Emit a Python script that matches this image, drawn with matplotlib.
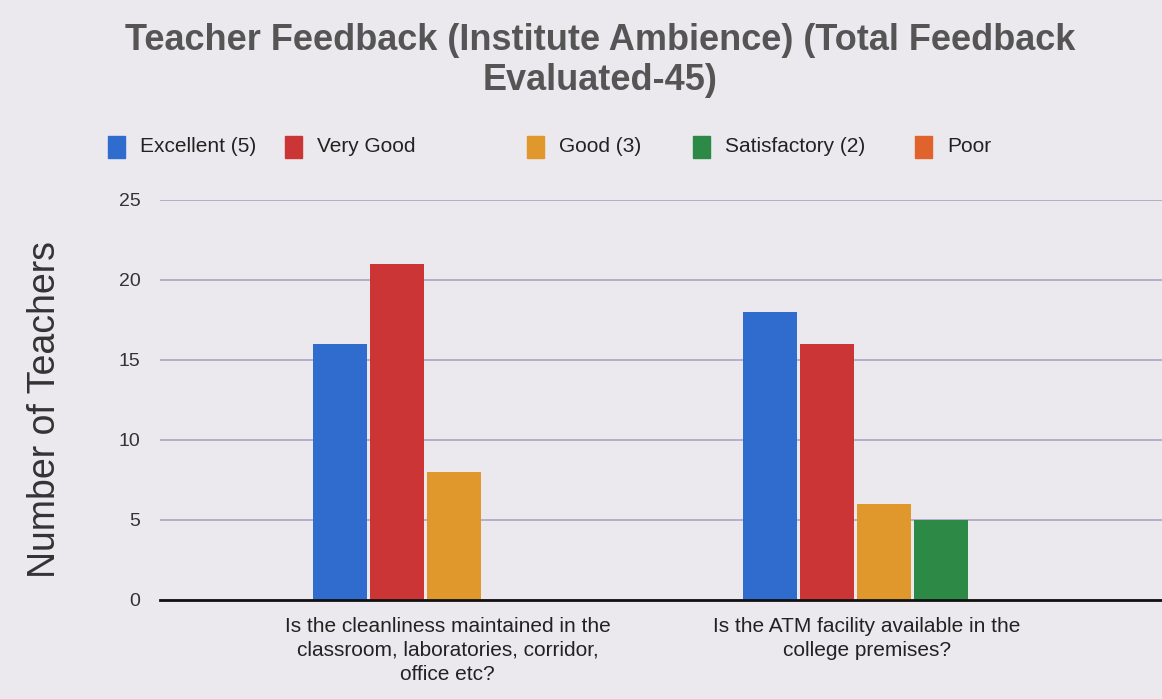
import matplotlib.pyplot as plt
from matplotlib.patches import Rectangle
import numpy as np

# data
questions = ['Is the cleanliness maintained in the\nclassroom, laboratories, corridor,\noffice etc?',
             'Is the ATM facility available in the\ncollege premises?']
series = ['Excellent (5)', 'Very Good', 'Good (3)', 'Satisfactory (2)', 'Poor']
excellent = [16, 18]
very_good = [21, 16]
good = [8, 6]
satisfactory = [0, 5]
poor = [0, 0]
values = [excellent, very_good, good, satisfactory, poor]
colors = ['#2f6ccd', '#cc3535', '#e0972c', '#2c8a46', '#e0632b']

bg = '#ebe9ee'
plt.rcParams['font.family'] = ['Liberation Sans', 'DejaVu Sans']

fig = plt.figure(figsize=(11.62, 6.99), dpi=100, facecolor=bg)
ax = fig.add_axes([160/1162, 1-600/699, 1-160/1162, (600-200)/699])
ax.set_facecolor(bg)

x = np.arange(len(questions))
step = 57/430
w = 54/430
for i, (vals, c) in enumerate(zip(values, colors)):
    ax.bar(x + (i-2)*step, vals, width=w, color=c, zorder=3)

ax.set_xlim(-0.684, 1.647)
ax.set_ylim(0, 25)
ax.set_yticks([0, 5, 10, 15, 20, 25])
ax.tick_params(axis='y', length=0, labelsize=14, labelcolor='#333333', pad=14)
ax.tick_params(axis='x', length=0, pad=12)
ax.set_xticks(x + np.array([-0.015, -0.04]))
ax.set_xticklabels(questions, fontsize=15, color='#222222', linespacing=1.35)
ax.grid(axis='y', color='#aaa5c2', linewidth=1.2, zorder=0)
for s in ['top', 'right', 'left']:
    ax.spines[s].set_visible(False)
ax.spines['bottom'].set_color('#111111')
ax.spines['bottom'].set_linewidth(2)
ax.spines['bottom'].set_zorder(4)

fig.text(45/1162, 1-410/699, 'Number of Teachers', rotation=90, ha='center', va='center',
         fontsize=27, color='#333333')

fig.text(600/1162, 1-40/699, 'Teacher Feedback (Institute Ambience) (Total Feedback',
         ha='center', va='center', fontsize=26, fontweight='bold', color='#555555')
fig.text(600/1162, 1-80/699, 'Evaluated-45)',
         ha='center', va='center', fontsize=26, fontweight='bold', color='#555555')

# legend laid out by hand, the gaps in the picture are uneven
box_x = [108, 285, 527, 693, 915]
for bx, name, c in zip(box_x, series, colors):
    fig.patches.append(Rectangle((bx/1162, 1-158/699), 17/1162, 22/699,
                                 transform=fig.transFigure, color=c))
    fig.text((bx+32)/1162, 1-147/699, name, ha='left', va='center',
             fontsize=15, color='#222222')

fig.savefig('out.png', dpi=100, facecolor=bg)
